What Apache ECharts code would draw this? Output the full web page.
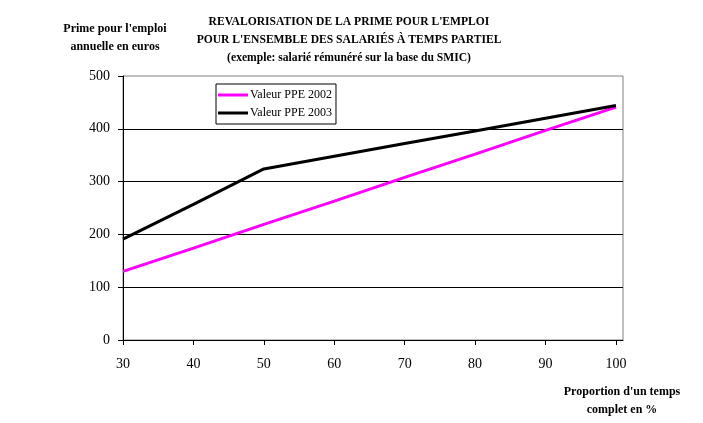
<!DOCTYPE html>
<html><head><meta charset="utf-8">
<script src="https://cdn.jsdelivr.net/npm/echarts@6/dist/echarts.min.js"></script>
<style>html,body{margin:0;padding:0;background:#fff}#c{width:703px;height:423px}</style>
</head><body><div id="c"></div>
<script>
const xValues = [30, 40, 50, 60, 70, 80, 90, 100];
const ppe2002 = [130, 174, 219, 263, 308, 352, 397, 441];
const ppe2003 = [191, 257, 324, 348, 372, 396, 420, 444];
const seriesNames = ['Valeur PPE 2002', 'Valeur PPE 2003'];
const titleLines = ["REVALORISATION DE LA PRIME POUR L'EMPLOI", "POUR L'ENSEMBLE DES SALARIÉS À TEMPS PARTIEL", "(exemple: salarié rémunéré sur la base du SMIC)"];
const yTitle = ["Prime pour l'emploi", "annuelle en euros"];
const xTitle = ["Proportion d'un temps", "complet en %"];

const F = '"Liberation Serif","Times New Roman",serif';
const chart = echarts.init(document.getElementById('c'), null, {renderer: 'canvas'});
chart.setOption({
  backgroundColor: '#fff',
  animation: false,
  textStyle: {fontFamily: F},
  title: [
    {text: titleLines.join('\n'), left: 344, top: 8, textAlign: 'center',
     textStyle: {fontFamily: F, fontSize: 11.6, fontWeight: 'bold', color: '#000', lineHeight: 18}},
    {text: yTitle.join('\n'), left: 110, top: 15, textAlign: 'center',
     textStyle: {fontFamily: F, fontSize: 12, fontWeight: 'bold', color: '#000', lineHeight: 18}},
    {text: xTitle.join('\n'), left: 617, top: 378, textAlign: 'center',
     textStyle: {fontFamily: F, fontSize: 12, fontWeight: 'bold', color: '#000', lineHeight: 18}}
  ],
  legend: {
    orient: 'vertical', left: 216, top: 84,
    data: seriesNames,
    icon: 'rect', itemWidth: 30, itemHeight: 3, itemGap: 6,
    backgroundColor: '#fff', borderColor: '#000', borderWidth: 1, borderRadius: 0,
    padding: [5, 4, 5, 2],
    textStyle: {fontFamily: F, fontSize: 12, color: '#000', padding: [0, 0, 0, -3]}
  },
  grid: {left: 123, top: 76, right: 80, bottom: 83, show: true, borderColor: '#808080', borderWidth: 1, backgroundColor: '#fff'},
  xAxis: {
    type: 'value', min: 30, max: 101, interval: 10,
    axisLine: {show: true, lineStyle: {color: '#000', width: 1}},
    axisTick: {show: true, length: 5, lineStyle: {color: '#000'}, customValues: xValues},
    axisLabel: {color: '#000', fontFamily: F, fontSize: 14, margin: 17, customValues: xValues},
    splitLine: {show: false}
  },
  yAxis: {
    type: 'value', min: 0, max: 500, interval: 100,
    axisLine: {show: true, lineStyle: {color: '#000', width: 1}},
    axisTick: {show: true, length: 5, lineStyle: {color: '#000'}},
    axisLabel: {color: '#000', fontFamily: F, fontSize: 14, margin: 13},
    splitLine: {show: true, showMaxLine: false, showMinLine: false, lineStyle: {color: '#000', width: 1}}
  },
  series: [
    {name: seriesNames[0], type: 'line', data: xValues.map((x, i) => [x, ppe2002[i]]),
     showSymbol: false, symbol: 'none', color: '#ff00ff', lineStyle: {color: '#ff00ff', width: 3}, z: 3},
    {name: seriesNames[1], type: 'line', data: xValues.map((x, i) => [x, ppe2003[i]]),
     showSymbol: false, symbol: 'none', color: '#000', lineStyle: {color: '#000', width: 3}, z: 4}
  ]
});
</script></body></html>
